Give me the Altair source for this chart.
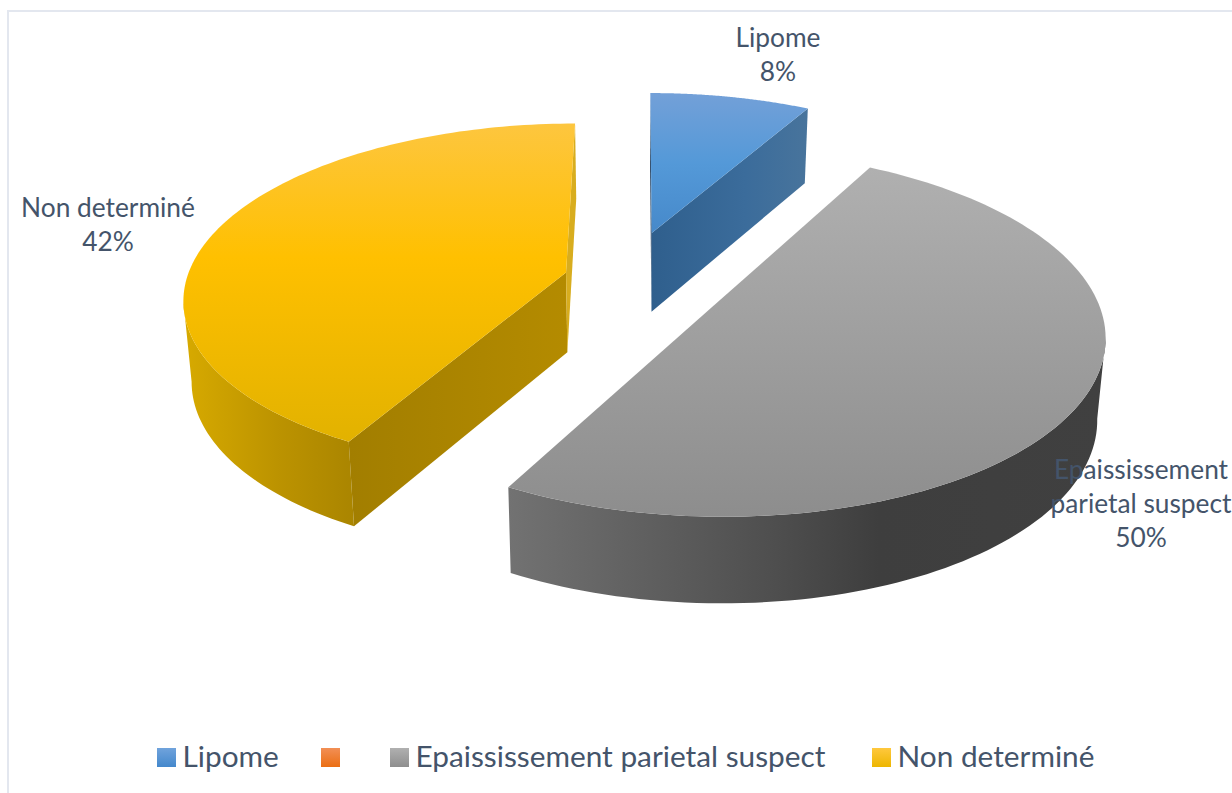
import math
import altair as alt

# Share of each finding, in percent, in pie order (clockwise from twelve o'clock)
categories = ["Lipome", "", "Epaississement parietal suspect", "Non determiné"]
values = [8, 0, 50, 42]
label_lines = {"Lipome": ["Lipome"],
               "Epaississement parietal suspect": ["Epaississement", "parietal suspect"],
               "Non determiné": ["Non determiné"]}

FONT = "Lato"
TEXT = "#44546A"
W, H = 1232, 793

# Perspective camera for the tilted pie
CX, CY, RX, RY, PERSP = 640, 281, 380, 172, 0.14
DEPTH, SHRINK = 80, 0.982
# Where each slice has been pulled out to, in disc coordinates
explode = {"Lipome": (0.032, -0.29), "Epaississement parietal suspect": (0.185, 0.15), "Non determiné": (-0.196, -0.05)}


def project(px, pv):
    k = 1 / (1 - PERSP * pv)
    return CX + RX * px * k, CY + RY * pv * k, k


def top(name, theta=None):
    ex, ev = explode[name]
    if theta is None:
        return project(ex, ev)
    return project(ex + math.sin(theta), ev - math.cos(theta))


def lower(pt):
    x, y, k = pt
    return CX + (x - CX) * SHRINK, y + DEPTH * k ** 0.45, k


def arc(name, a0, a1, n=120):
    return [top(name, a0 + (a1 - a0) * i / n) for i in range(n + 1)]


def polygon(points, fill):
    ring = [[round(p[0], 2), round(p[1], 2)] for p in points]
    ring.append(ring[0])
    feature = {"type": "Feature", "properties": {}, "geometry": {"type": "Polygon", "coordinates": [ring]}}
    return alt.Chart(alt.Data(values=[feature])).mark_geoshape(fill=fill, stroke=None).project(
        type="identity", scale=1, translate=[0, 0])


def grad(stops, vertical=True):
    end = {"x1": 0, "x2": 0, "y1": 0, "y2": 1} if vertical else {"x1": 0, "x2": 1, "y1": 0, "y2": 0}
    return alt.Gradient(gradient="linear",
                        stops=[alt.GradientStop(offset=o, color=c) for o, c in stops], **end)


# Slice angles follow directly from the shares
angles, cum = {}, 0
for c, v in zip(categories, values):
    angles[c] = (cum / 100 * 2 * math.pi, (cum + v) / 100 * 2 * math.pi)
    cum += v

LIP, GRAY, YEL = categories[0], categories[2], categories[3]
layers = []

# Blue slice: dark sliver, cut wall, top face
a0, a1 = angles[LIP]
apex = top(LIP)
far, near = top(LIP, a0), top(LIP, a1)
layers.append(polygon([far, apex, lower(apex), lower(far)], "#1D3B5C"))
layers.append(polygon([apex, near, lower(near), lower(apex)],
                      grad([(0, "#2F5F8D"), (0.6, "#3B6C9B"), (1, "#48749C")], vertical=False)))
layers.append(polygon([apex] + arc(LIP, a0, a1),
                      grad([(0, "#73A0D8"), (0.5, "#5499D8"), (1, "#4689CA")])))

# Gray slice: the curved wall runs from the rim's rightmost point to the front corner
a0, a1 = angles[GRAY]
rim = arc(GRAY, a0, a1)
wall = rim[max(range(len(rim)), key=lambda i: rim[i][0]):]
layers.append(polygon(wall + [lower(p) for p in reversed(wall)],
                      grad([(0, "#727272"), (0.45, "#4E4E4E"), (0.62, "#3E3E3E"), (1, "#404040")], vertical=False)))
layers.append(polygon([top(GRAY)] + rim,
                      grad([(0, "#B0B0B0"), (1, "#8D8D8D")])))

# Yellow slice: curved wall up to the rim's leftmost point, cut wall, thin rear wall, top face
a0, a1 = angles[YEL]
apex = top(YEL)
start, end = top(YEL, a0), top(YEL, a1)
rim = arc(YEL, a0, a1)
wall = rim[:min(range(len(rim)), key=lambda i: rim[i][0]) + 1]
layers.append(polygon(wall + [lower(p) for p in reversed(wall)],
                      grad([(0, "#D7AA00"), (0.55, "#BC9300"), (1, "#AA8500")], vertical=False)))
layers.append(polygon([start, apex, lower(apex), lower(start)],
                      grad([(0, "#A27E00"), (1, "#B48B00")], vertical=False)))
layers.append(polygon([apex, end, lower(end), lower(apex)], "#D8AD1E"))
layers.append(polygon([apex] + rim,
                      grad([(0, "#FDC63F"), (0.42, "#FFC000"), (1, "#E2B200")])))

# Chart frame
frame = alt.Chart(alt.Data(values=[{"x": 8, "x2": 1240, "y": 11, "y2": 800}])).mark_rect(
    fill=None, stroke="#E3E7EF", strokeWidth=2).encode(
    x=alt.X("x:Q", scale=None), x2="x2:Q", y=alt.Y("y:Q", scale=None), y2="y2:Q")

# Data labels: name lines then the percentage
label_anchor = {LIP: (778, 39), GRAY: (1141, 471), YEL: (108, 209)}
LINE = 34
rows = []
for name, (lx, ly) in label_anchor.items():
    lines = label_lines[name] + [f"{values[categories.index(name)]}%"]
    for i, t in enumerate(lines):
        rows.append({"x": lx, "y": ly + i * LINE, "t": t})
labels = alt.Chart(alt.Data(values=rows)).mark_text(
    font=FONT, fontSize=26.3, color=TEXT, align="center", baseline="middle").encode(
    x=alt.X("x:Q", scale=None), y=alt.Y("y:Q", scale=None), text="t:N")

# Legend
legend_fill = [("#70A3DC", "#4488CC"), ("#F28F55", "#EB6E13"), ("#B0B0B0", "#8E8E8E"), ("#FFC83E", "#EDB600")]
legend_x = [157, 321, 390, 872]
legend_items = []
for c, (f0, f1), lx in zip(categories, legend_fill, legend_x):
    legend_items.append(alt.Chart(alt.Data(values=[{"x": lx, "x2": lx + 19, "y": 748, "y2": 767}])).mark_rect(
        fill=grad([(0, f0), (1, f1)])).encode(
        x=alt.X("x:Q", scale=None), x2="x2:Q", y=alt.Y("y:Q", scale=None), y2="y2:Q"))
legend_text = alt.Chart(alt.Data(values=[{"x": lx + 25.5, "y": 758, "t": c}
                                         for c, lx in zip(categories, legend_x) if c])).mark_text(
    font=FONT, fontSize=29.8, color=TEXT, align="left", baseline="middle").encode(
    x=alt.X("x:Q", scale=None), y=alt.Y("y:Q", scale=None), text="t:N")

chart = alt.layer(frame, *layers, labels, *legend_items, legend_text).properties(
    width=W, height=H, padding=0, autosize=alt.AutoSizeParams(type="none"),
    background="white").configure_view(stroke=None)

chart.save("out.html", embed_options={"renderer": "svg", "actions": False})
